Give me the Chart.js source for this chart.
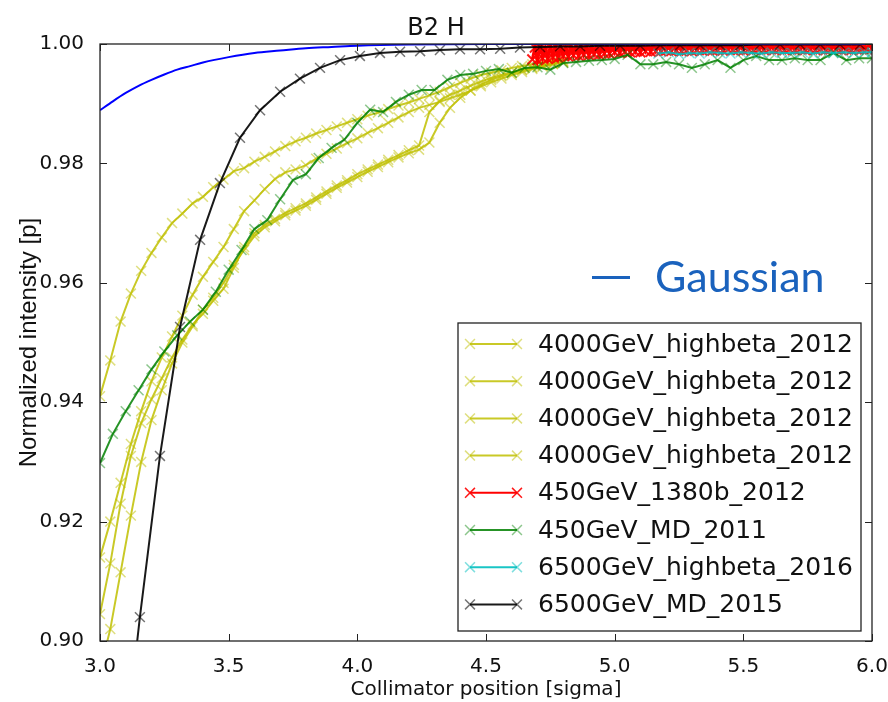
<!DOCTYPE html>
<html>
<head>
<meta charset="utf-8">
<title>B2 H</title>
<script src="https://cdn.jsdelivr.net/npm/chart.js@4.4.1/dist/chart.umd.min.js"></script>
<style>
  html, body { margin: 0; padding: 0; background: #fff; }
</style>
</head>
<body>
<canvas id="myChart" width="888" height="702"></canvas>
<script>
// ---- data ----
var gaussX = [3.00, 3.05, 3.10, 3.15, 3.20, 3.25, 3.30, 3.35, 3.40, 3.50, 3.60, 3.70, 3.80, 3.90, 4.00, 4.20, 4.50, 5.00, 6.00];
var gaussY = [0.9889, 0.9904, 0.9918, 0.9930, 0.9940, 0.9949, 0.9957, 0.9963, 0.9969, 0.9978, 0.9985, 0.9989, 0.9993, 0.9995, 0.9997, 0.9999, 1.0, 1.0, 1.0];

var yellowX = [3.00, 3.04, 3.08, 3.12, 3.16, 3.20, 3.24, 3.28, 3.32, 3.36,
               3.40, 3.44, 3.48, 3.52, 3.56, 3.60, 3.64, 3.68, 3.72, 3.76,
               3.80, 3.84, 3.88, 3.92, 3.96,
               4.00, 4.04, 4.08, 4.12, 4.16, 4.20, 4.24, 4.28, 4.32, 4.36,
               4.40, 4.44, 4.48, 4.52, 4.56, 4.60, 4.64, 4.68, 4.72, 4.76,
               4.80];
var yellowA = [0.9410, 0.9470, 0.9535, 0.9582, 0.9620, 0.9650, 0.9676, 0.9700, 0.9716, 0.9733,
               0.9744, 0.9760, 0.9773, 0.9787, 0.9792, 0.9803, 0.9811, 0.9820, 0.9829, 0.9837,
               0.9843, 0.9850, 0.9856, 0.9862, 0.9868,
               0.9874, 0.9880, 0.9885, 0.9891, 0.9897, 0.9902, 0.9908, 0.9914, 0.9920, 0.9928,
               0.9935, 0.9942, 0.9948, 0.9952, 0.9956, 0.9960, 0.9963, 0.9966, 0.9969, 0.9972,
               0.9974];
var yellowB = [0.9140, 0.9200, 0.9265, 0.9330, 0.9385, 0.9435, 0.9475, 0.9510, 0.9545, 0.9580,
               0.9610, 0.9635, 0.9660, 0.9690, 0.9720, 0.9738, 0.9757, 0.9774, 0.9785, 0.9790,
               0.9797, 0.9808, 0.9816, 0.9825, 0.9834,
               0.9842, 0.9851, 0.9859, 0.9868, 0.9877, 0.9886, 0.9893, 0.9898, 0.9903, 0.9909,
               0.9915, 0.9922, 0.9929, 0.9936, 0.9942, 0.9948, 0.9953, 0.9958, 0.9962, 0.9966,
               0.9969];
var yellowC = [0.9045, 0.9130, 0.9230, 0.9310, 0.9365, 0.9405, 0.9440, 0.9475, 0.9505, 0.9530,
               0.9548, 0.9570, 0.9590, 0.9625, 0.9660, 0.9683, 0.9697, 0.9707, 0.9717, 0.9725,
               0.9733, 0.9743, 0.9753, 0.9763, 0.9772,
               0.9782, 0.9790, 0.9798, 0.9806, 0.9814, 0.9822, 0.9830, 0.9886, 0.9905, 0.9915,
               0.9922, 0.9930, 0.9937, 0.9943, 0.9948, 0.9952, 0.9957, 0.9961, 0.9965, 0.9968,
               0.9971];
var yellowD = [0.8950, 0.9020, 0.9115, 0.9210, 0.9300, 0.9370, 0.9420, 0.9465, 0.9500, 0.9527,
               0.9555, 0.9575, 0.9600, 0.9630, 0.9655, 0.9678, 0.9693, 0.9703, 0.9713, 0.9721,
               0.9729, 0.9739, 0.9749, 0.9759, 0.9768,
               0.9777, 0.9786, 0.9794, 0.9802, 0.9810, 0.9817, 0.9823, 0.9835, 0.9868, 0.9893,
               0.9910, 0.9922, 0.9932, 0.9940, 0.9946, 0.9951, 0.9956, 0.9960, 0.9964, 0.9967,
               0.9970];

var redX = [4.68, 4.69, 4.70, 4.71, 4.72, 4.73, 4.74, 4.75, 4.76, 4.77,
            4.78, 4.79, 4.80, 4.81, 4.82, 4.83, 4.84, 4.85, 4.86, 4.87,
            4.88, 4.89, 4.90, 4.91, 4.92, 4.93, 4.94, 4.95, 4.96, 4.97,
            4.98, 4.99, 5.00, 5.01, 5.02, 5.03, 5.04, 5.05, 5.06, 5.07,
            5.08, 5.09, 5.10, 5.11, 5.12, 5.13, 5.14, 5.15, 5.16, 5.17,
            5.18, 5.19, 5.20, 5.21, 5.22, 5.23, 5.24, 5.25, 5.26, 5.27,
            5.28, 5.29, 5.30, 5.31, 5.32, 5.33, 5.34, 5.35, 5.36, 5.37,
            5.38, 5.39, 5.40, 5.41, 5.42, 5.43, 5.44, 5.45, 5.46, 5.47,
            5.48, 5.49, 5.50, 5.51, 5.52, 5.53, 5.54, 5.55, 5.56, 5.57,
            5.58, 5.59, 5.60, 5.61, 5.62, 5.63, 5.64, 5.65, 5.66, 5.67,
            5.68, 5.69, 5.70, 5.71, 5.72, 5.73, 5.74, 5.75, 5.76, 5.77,
            5.78, 5.79, 5.80, 5.81, 5.82, 5.83, 5.84, 5.85, 5.86, 5.87,
            5.88, 5.89, 5.90, 5.91, 5.92, 5.93, 5.94, 5.95, 5.96, 5.97,
            5.98, 5.99, 6.00];
var redY = [0.9974, 0.9994, 0.9973, 0.9997, 0.9976, 0.9993, 0.9975, 0.9998, 0.9978, 0.9995,
            0.9977, 0.9997, 0.9980, 0.9994, 0.9979, 0.9998, 0.9981, 0.9996, 0.9980, 0.9999,
            0.9982, 0.9995, 0.9981, 0.9998, 0.9983, 0.9996, 0.9982, 0.9999, 0.9984, 0.9997,
            0.9984, 0.9998, 0.9986, 0.9996, 0.9985, 0.9999, 0.9987, 0.9997, 0.9986, 0.9999,
            0.9987, 0.9997, 0.9986, 0.9999, 0.9988, 0.9998, 0.9987, 0.9999, 0.9988, 0.9997,
            0.9988, 0.9999, 0.9989, 0.9998, 0.9988, 0.9999, 0.9989, 0.9997, 0.9988, 0.9999,
            0.9989, 0.9998, 0.9988, 0.9999, 0.9990, 0.9998, 0.9989, 0.9999, 0.9990, 0.9997,
            0.9989, 0.9999, 0.9990, 0.9998, 0.9989, 0.9999, 0.9991, 0.9998, 0.9990, 0.9999,
            0.9990, 0.9998, 0.9989, 0.9999, 0.9991, 0.9998, 0.9990, 0.9999, 0.9991, 0.9998,
            0.9990, 0.9999, 0.9991, 0.9998, 0.9990, 0.9999, 0.9991, 0.9998, 0.9990, 0.9999,
            0.9991, 0.9998, 0.9990, 0.9999, 0.9991, 0.9998, 0.9990, 0.9999, 0.9991, 0.9998,
            0.9990, 0.9999, 0.9991, 0.9998, 0.9990, 0.9999, 0.9991, 0.9998, 0.9991, 0.9999,
            0.9990, 0.9998, 0.9991, 0.9999, 0.9990, 0.9998, 0.9991, 0.9999, 0.9991, 0.9998,
            0.9991, 0.9999, 0.9992];

var greenX = [3.00, 3.05, 3.10, 3.15, 3.20, 3.25, 3.30, 3.35, 3.40, 3.45,
              3.50, 3.55, 3.60, 3.65, 3.70, 3.75, 3.80, 3.85, 3.90, 3.95,
              4.00, 4.05, 4.10, 4.15, 4.20, 4.25, 4.30, 4.35, 4.40, 4.45,
              4.50, 4.55, 4.60, 4.65, 4.70, 4.75, 4.80, 4.85, 4.90, 4.95,
              5.00, 5.05, 5.10, 5.15, 5.20, 5.25, 5.30, 5.35, 5.40, 5.45,
              5.50, 5.55, 5.60, 5.65, 5.70, 5.75, 5.80, 5.85, 5.90, 5.95,
              6.00];
var greenY = [0.9298, 0.9347, 0.9385, 0.9420, 0.9455, 0.9485, 0.9512, 0.9535, 0.9555, 0.9585,
              0.9622, 0.9655, 0.9690, 0.9705, 0.9740, 0.9772, 0.9782, 0.9809, 0.9826, 0.9840,
              0.9868, 0.9890, 0.9886, 0.9903, 0.9915, 0.9923, 0.9923, 0.9940, 0.9948, 0.9950,
              0.9955, 0.9958, 0.9952, 0.9960, 0.9961, 0.9957, 0.9968, 0.9970, 0.9972, 0.9973,
              0.9975, 0.9982, 0.9966, 0.9966, 0.9970, 0.9966, 0.9960, 0.9966, 0.9973, 0.9960,
              0.9973, 0.9980, 0.9973, 0.9973, 0.9976, 0.9973, 0.9973, 0.9985, 0.9973, 0.9976,
              0.9976];

var cyanX = [5.17, 5.21, 5.25, 5.29, 5.33, 5.37, 5.41, 5.45, 5.49, 5.53, 5.57,
             5.61, 5.65, 5.69, 5.73, 5.77, 5.81, 5.85, 5.89, 5.93, 5.97, 6.00];
var cyanY = [0.9984, 0.9986, 0.9983, 0.9985, 0.9984, 0.9986, 0.9985, 0.9984, 0.9986, 0.9985, 0.9984,
             0.9986, 0.9985, 0.9985, 0.9986, 0.9984, 0.9986, 0.9985, 0.9986, 0.9985, 0.9986, 0.9986];

var blackX = [3.077, 3.155, 3.233, 3.311, 3.389, 3.466, 3.544, 3.622, 3.700, 3.777,
              3.855, 3.933, 4.010, 4.088, 4.166, 4.244, 4.321, 4.399, 4.477, 4.555,
              4.632, 4.710, 4.788, 4.866, 4.943, 5.021, 5.099, 5.177, 5.254, 5.332,
              5.410, 5.488, 5.565, 5.643, 5.721, 5.799, 5.876, 5.954];
var blackY = [0.874, 0.904, 0.931, 0.9526, 0.9672, 0.9767, 0.9843, 0.9889, 0.9920, 0.9942,
              0.9960, 0.9973, 0.9980, 0.9985, 0.9987, 0.9988, 0.9990, 0.9991, 0.9991, 0.9992,
              0.9994, 0.9995, 0.9996, 0.9996, 0.9997, 0.9997, 0.9997, 0.9998, 0.9998, 0.9998,
              0.9998, 0.9998, 0.9999, 0.9999, 0.9999, 0.9999, 0.9999, 0.9999];

var xTicks = [3.0, 3.5, 4.0, 4.5, 5.0, 5.5, 6.0];
var yTicks = [0.90, 0.92, 0.94, 0.96, 0.98, 1.00];

function toPoints(xs, ys) {
    var pts = [];
    for (var i = 0; i < xs.length; i++) {
        pts.push({ x: xs[i], y: ys[i] });
    }
    return pts;
}

function series(label, xs, ys, lineColor, markColor, order) {
    return {
        label: label,
        data: toPoints(xs, ys),
        borderColor: lineColor,
        borderWidth: 2,
        pointStyle: 'crossRot',
        pointRadius: 7,
        pointBorderWidth: 1.5,
        pointBorderColor: markColor,
        pointBackgroundColor: markColor,
        tension: 0,
        clip: 0,
        order: order,
        markColor: markColor
    };
}

var YEL = 'rgba(191,191,0,0.85)', YELM = 'rgba(191,191,0,0.5)';

// red run is very dense, drawn heavier so it reads as a solid band
var redSeries = series('450GeV_1380b_2012', redX, redY, '#ff0000', 'rgba(255,0,0,0.9)', 5);
redSeries.borderWidth = 3;
redSeries.pointBorderWidth = 2;

var datasets = [
    series('4000GeV_highbeta_2012', yellowX, yellowA, YEL, YELM, 9),
    series('4000GeV_highbeta_2012', yellowX, yellowB, YEL, YELM, 8),
    series('4000GeV_highbeta_2012', yellowX, yellowC, YEL, YELM, 7),
    series('4000GeV_highbeta_2012', yellowX, yellowD, YEL, YELM, 6),
    redSeries,
    series('450GeV_MD_2011', greenX, greenY, 'rgba(0,128,0,0.85)', 'rgba(0,128,0,0.45)', 4),
    series('6500GeV_highbeta_2016', cyanX, cyanY, 'rgba(0,191,191,0.9)', 'rgba(0,191,191,0.5)', 3),
    series('6500GeV_MD_2015', blackX, blackY, 'rgba(0,0,0,0.9)', 'rgba(0,0,0,0.55)', 2),
    {
        label: 'Gaussian',
        data: toPoints(gaussX, gaussY),
        borderColor: '#0000ff',
        borderWidth: 2,
        pointRadius: 0,
        cubicInterpolationMode: 'monotone',
        clip: 0,
        order: 1,
        noLegend: true
    }
];

// inner ticks on all four sides + the axes frame
var frameTicks = {
    id: 'frameTicks',
    afterDraw: function (chart) {
        var ctx = chart.ctx, a = chart.chartArea;
        var xs = chart.scales.x, ys = chart.scales.y;
        var len = 7;
        ctx.save();
        ctx.strokeStyle = '#222';
        ctx.lineWidth = 1;
        ctx.beginPath();
        xTicks.forEach(function (v) {
            var px = Math.round(xs.getPixelForValue(v)) + 0.5;
            ctx.moveTo(px, a.bottom); ctx.lineTo(px, a.bottom - len);
            ctx.moveTo(px, a.top); ctx.lineTo(px, a.top + len);
        });
        yTicks.forEach(function (v) {
            var py = Math.round(ys.getPixelForValue(v)) + 0.5;
            ctx.moveTo(a.left, py); ctx.lineTo(a.left + len, py);
            ctx.moveTo(a.right, py); ctx.lineTo(a.right - len, py);
        });
        ctx.stroke();
        ctx.lineWidth = 1.3;
        ctx.strokeRect(a.left, a.top, a.right - a.left, a.bottom - a.top);
        ctx.restore();
    }
};

function drawCross(ctx, x, y, r, color) {
    var d = r * Math.SQRT1_2;
    ctx.strokeStyle = color;
    ctx.lineWidth = 1.5;
    ctx.beginPath();
    ctx.moveTo(x - d, y - d); ctx.lineTo(x + d, y + d);
    ctx.moveTo(x - d, y + d); ctx.lineTo(x + d, y - d);
    ctx.stroke();
}

// legend box in the lower right of the axes, like matplotlib's
var boxLegend = {
    id: 'boxLegend',
    afterDraw: function (chart) {
        var ctx = chart.ctx, a = chart.chartArea;
        var items = chart.data.datasets.filter(function (d) { return !d.noLegend; });
        var w = 403, h = 308;
        var x0 = a.right - 11 - w, y0 = a.bottom - 10 - h;
        var row = 37.2;
        ctx.save();
        ctx.fillStyle = '#fff';
        ctx.fillRect(x0, y0, w, h);
        ctx.strokeStyle = '#222';
        ctx.lineWidth = 1.3;
        ctx.strokeRect(x0, y0, w, h);
        ctx.font = '25px "DejaVu Sans"';
        ctx.textBaseline = 'middle';
        ctx.textAlign = 'left';
        items.forEach(function (d, i) {
            var y = y0 + 21 + i * row;
            ctx.strokeStyle = d.borderColor;
            ctx.lineWidth = 2;
            ctx.beginPath();
            ctx.moveTo(x0 + 12, y); ctx.lineTo(x0 + 59, y);
            ctx.stroke();
            drawCross(ctx, x0 + 12, y, 7, d.markColor);
            drawCross(ctx, x0 + 59, y, 7, d.markColor);
            ctx.fillStyle = '#111';
            ctx.fillText(d.label, x0 + 80, y + 1);
        });
        ctx.restore();
    }
};

// the big blue "— Gaussian" note
var gaussNote = {
    id: 'gaussNote',
    afterDraw: function (chart) {
        var ctx = chart.ctx;
        ctx.save();
        ctx.fillStyle = '#1a62bd';
        ctx.fillRect(592, 276, 38, 3);
        ctx.font = '43px Lato';
        ctx.textBaseline = 'alphabetic';
        ctx.textAlign = 'left';
        ctx.fillText('Gaussian', 655, 292);
        ctx.restore();
    }
};

Chart.defaults.font.family = '"DejaVu Sans"';
Chart.defaults.color = '#111';

var ctx = document.getElementById('myChart').getContext('2d');
var chart = new Chart(ctx, {
    type: 'line',
    data: { datasets: datasets },
    options: {
        responsive: false,
        animation: false,
        devicePixelRatio: 1,
        layout: { padding: { left: 0, right: 16, top: 0, bottom: 0 } },
        plugins: {
            legend: { display: false },
            tooltip: { enabled: false },
            title: {
                display: true,
                text: 'B2 H',
                color: '#111',
                font: { size: 24, weight: 'normal' },
                padding: { top: 14, bottom: 1.2 }
            }
        },
        scales: {
            x: {
                type: 'linear',
                min: 3.0,
                max: 6.0,
                afterFit: function (scale) {
                    scale.height = 61;
                    scale.paddingLeft = 0;
                    scale.paddingRight = 0;
                },
                afterBuildTicks: function (scale) {
                    scale.ticks = xTicks.map(function (v) { return { value: v }; });
                },
                grid: { display: false },
                border: { display: false },
                ticks: {
                    padding: 6,
                    maxRotation: 0,
                    font: { size: 20 },
                    callback: function (v) { return Number(v).toFixed(1); }
                },
                title: {
                    display: true,
                    text: 'Collimator position [sigma]',
                    font: { size: 20 },
                    padding: { top: 0, bottom: 0 }
                }
            },
            y: {
                min: 0.90,
                max: 1.00,
                afterFit: function (scale) {
                    scale.width = 100;
                    scale.paddingTop = 0;
                    scale.paddingBottom = 0;
                },
                afterBuildTicks: function (scale) {
                    scale.ticks = yTicks.map(function (v) { return { value: v }; });
                },
                grid: { display: false },
                border: { display: false },
                ticks: {
                    padding: 8,
                    font: { size: 20 },
                    callback: function (v) { return Number(v).toFixed(2); }
                },
                title: {
                    display: true,
                    text: 'Normalized intensity [p]',
                    font: { family: '"Liberation Sans", sans-serif', size: 24 },
                    padding: { top: 15, bottom: 0 }
                }
            }
        }
    },
    plugins: [frameTicks, boxLegend, gaussNote]
});
</script>
</body>
</html>
